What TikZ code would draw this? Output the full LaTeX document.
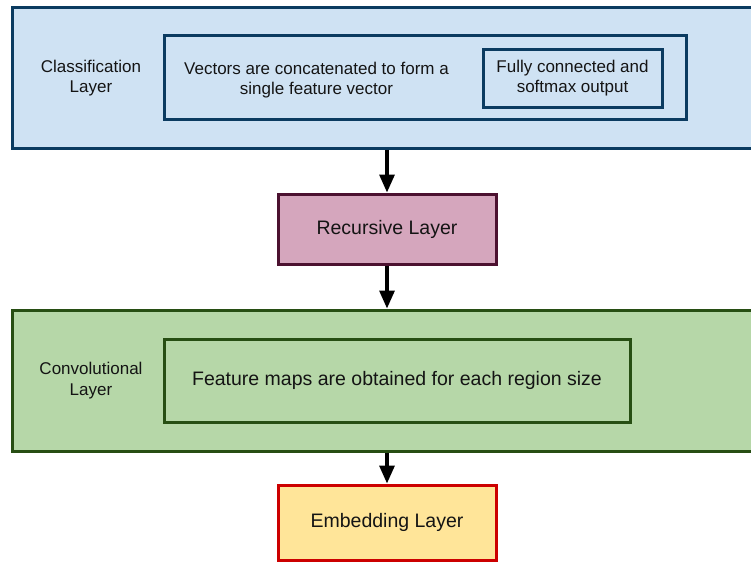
\documentclass[tikz,border=0pt]{standalone}
\usepackage{fontspec}
\setmainfont{Liberation Sans}
\usepackage{xcolor}
\definecolor{clsfill}{HTML}{CFE2F3}
\definecolor{clsline}{HTML}{0B3B60}
\definecolor{convfill}{HTML}{B6D7A8}
\definecolor{convline}{HTML}{274E13}
\definecolor{recfill}{HTML}{D5A6BD}
\definecolor{recline}{HTML}{4C1130}
\definecolor{embfill}{HTML}{FFE599}
\definecolor{embline}{HTML}{CC0000}
\definecolor{txtgray}{HTML}{141414}
\usepackage{tikz}
\usetikzlibrary{arrows.meta}

\begin{document}
\begin{tikzpicture}[x=1pt, y=-1pt,
  layer/.style={draw, rectangle, line width=3pt, inner sep=0pt, text=txtgray, align=center},
  small/.style={font=\fontsize{17}{20.5}\selectfont, text=txtgray, align=center},
  big/.style={font=\fontsize{19.5}{23}\selectfont},
  flow/.style={-{Triangle[length=18pt, width=15pt]}, line width=3.2pt, black}]
  \useasboundingbox (0,0) rectangle (751,563);
  % Classification layer
  \node[layer, draw=clsline, fill=clsfill, minimum width=741pt, minimum height=141pt] (clsbox) at (382.5,77.5) {};
  \node[layer, draw=clsline, minimum width=522pt, minimum height=84pt] (vecbox) at (425,77) {};
  \node[layer, small, draw=clsline, minimum width=179pt, minimum height=58pt] (fcbox) at (572.5,78) {Fully connected and\\softmax output};
  \node[small] (clslabel) at (91,78) {Classification\\Layer};
  \node[small] (vectext) at (316.5,80) {Vectors are concatenated to form a\\single feature vector};
  % Recursive layer
  \node[layer, big, draw=recline, fill=recfill, minimum width=218pt, minimum height=70pt] (recbox) at (387,229) {Recursive Layer};
  % Convolutional layer
  \node[layer, draw=convline, fill=convfill, minimum width=741pt, minimum height=141pt] (convbox) at (382.5,380.5) {};
  \node[layer, big, draw=convline, minimum width=466pt, minimum height=83pt] (featbox) at (397,380.5) {Feature maps are obtained for each region size};
  \node[small] (convlabel) at (91,380.5) {Convolutional\\Layer};
  % Embedding layer
  \node[layer, big, draw=embline, fill=embfill, minimum width=218pt, minimum height=75pt] (embbox) at (387,522.5) {Embedding Layer};
  % Arrows
  \draw[flow] (clsbox.south -| recbox.north) -- (recbox.north);
  \draw[flow] (recbox.south) -- (recbox.south |- convbox.north);
  \draw[flow] (convbox.south -| embbox.north) -- (embbox.north);
\end{tikzpicture}
\end{document}
